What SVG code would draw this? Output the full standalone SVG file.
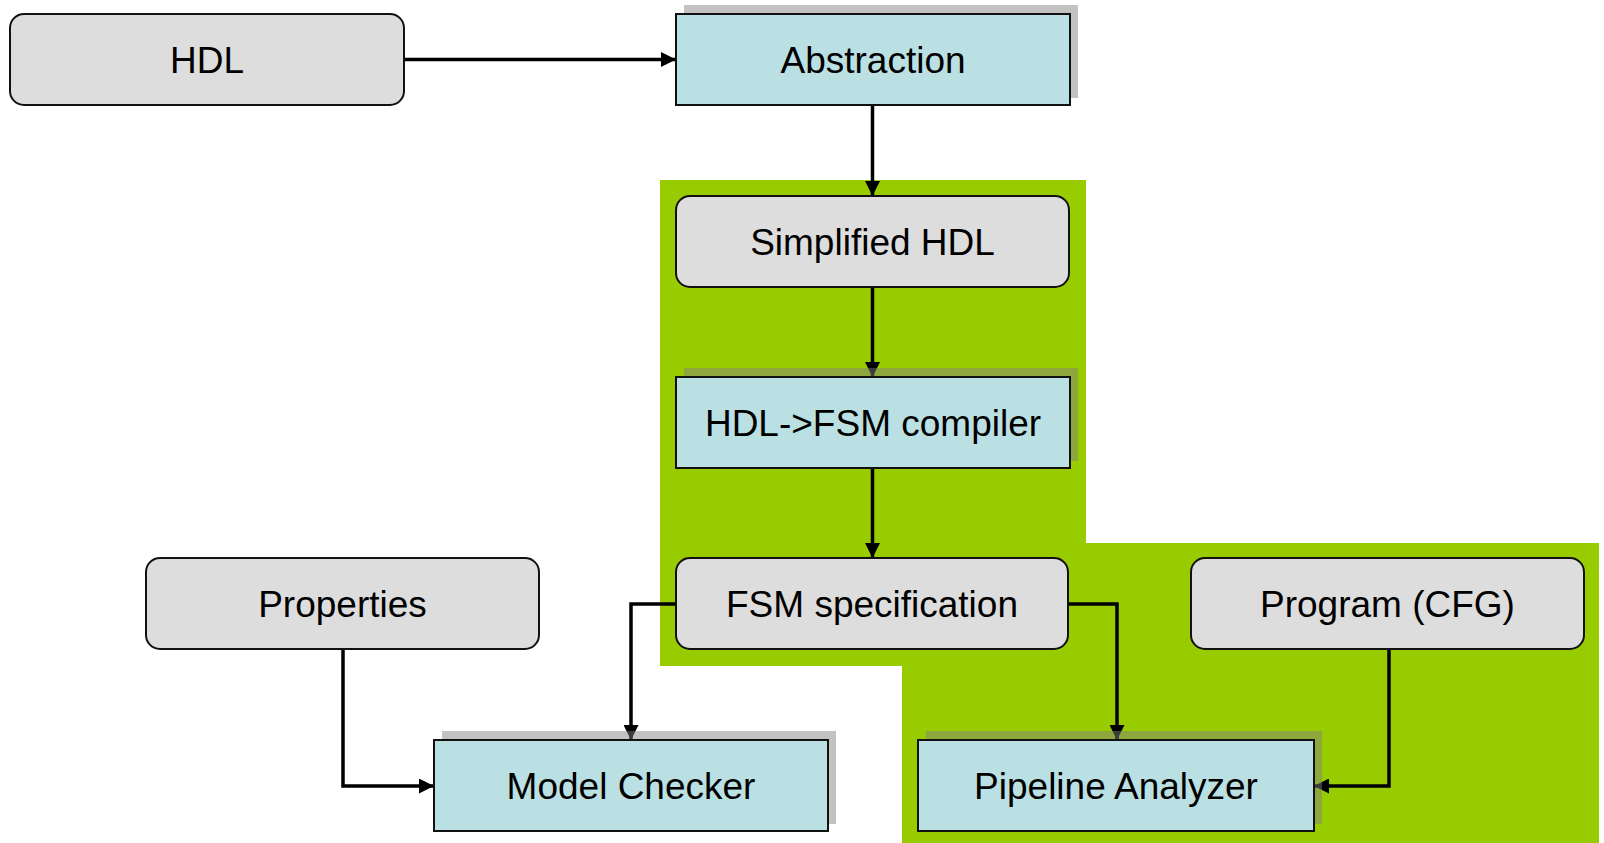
<svg xmlns="http://www.w3.org/2000/svg" width="1604" height="843" viewBox="0 0 1604 843">
  <style>
    .soft { fill: #dddddd; stroke: #111; stroke-width: 2; }
    .step { fill: #bae0e3; stroke: #111; stroke-width: 2; }
    .shadow { fill: #808080; fill-opacity: 0.48; }
    .label { font-family: "Liberation Sans", Arial, sans-serif; font-size: 37px; fill: #000; text-anchor: middle; }
    .wire { fill: none; stroke: #000; stroke-width: 3.5; marker-end: url(#head); }
  </style>
  <defs>
    <marker id="head" markerUnits="userSpaceOnUse" markerWidth="15" markerHeight="15" refX="15" refY="7.5" orient="auto">
      <path d="M0,0 L15,7.5 L0,15 z" fill="#000"/>
    </marker>
  </defs>

  <rect width="1604" height="843" fill="#ffffff"/>

  <!-- highlighted region -->
  <polygon points="660,180 1086,180 1086,543 1599,543 1599,843 902,843 902,666 660,666" fill="#99cc00"/>

  <!-- connectors -->
  <g id="connectors">
    <path class="wire" d="M404,59.5 H676"/>
    <path class="wire" d="M872.5,105 V196"/>
    <path class="wire" d="M872.5,287 V377"/>
    <path class="wire" d="M872.5,468 V558"/>
    <path class="wire" d="M676,604 H631 V740"/>
    <path class="wire" d="M1068,604 H1117 V740"/>
    <path class="wire" d="M1389,649 V786 H1314"/>
    <path class="wire" d="M343,649 V786 H434"/>
  </g>

  <!-- nodes -->
  <g id="hdl">
    <rect class="soft" x="10" y="14" width="394" height="91" rx="14"/>
    <text class="label" x="207" y="72.5">HDL</text>
  </g>
  <g id="abstraction">
    <rect class="shadow" x="684" y="5" width="394" height="93"/>
    <rect class="step" x="676" y="14" width="394" height="91"/>
    <text class="label" x="873" y="72.5">Abstraction</text>
  </g>
  <g id="simplified-hdl">
    <rect class="soft" x="676" y="196" width="393" height="91" rx="14"/>
    <text class="label" x="872.5" y="254.5">Simplified HDL</text>
  </g>
  <g id="hdl-fsm-compiler">
    <rect class="shadow" x="684" y="368" width="394" height="93"/>
    <rect class="step" x="676" y="377" width="394" height="91"/>
    <text class="label" x="873" y="435.5">HDL-&gt;FSM compiler</text>
  </g>
  <g id="properties">
    <rect class="soft" x="146" y="558" width="393" height="91" rx="14"/>
    <text class="label" x="342.5" y="616.5">Properties</text>
  </g>
  <g id="fsm-specification">
    <rect class="soft" x="676" y="558" width="392" height="91" rx="14"/>
    <text class="label" x="872" y="616.5">FSM specification</text>
  </g>
  <g id="program-cfg">
    <rect class="soft" x="1191" y="558" width="393" height="91" rx="14"/>
    <text class="label" x="1387.5" y="616.5">Program (CFG)</text>
  </g>
  <g id="model-checker">
    <rect class="shadow" x="442" y="731" width="394" height="93"/>
    <rect class="step" x="434" y="740" width="394" height="91"/>
    <text class="label" x="631" y="798.5">Model Checker</text>
  </g>
  <g id="pipeline-analyzer">
    <rect class="shadow" x="926" y="731" width="396" height="93"/>
    <rect class="step" x="918" y="740" width="396" height="91"/>
    <text class="label" x="1116" y="798.5">Pipeline Analyzer</text>
  </g>
</svg>
